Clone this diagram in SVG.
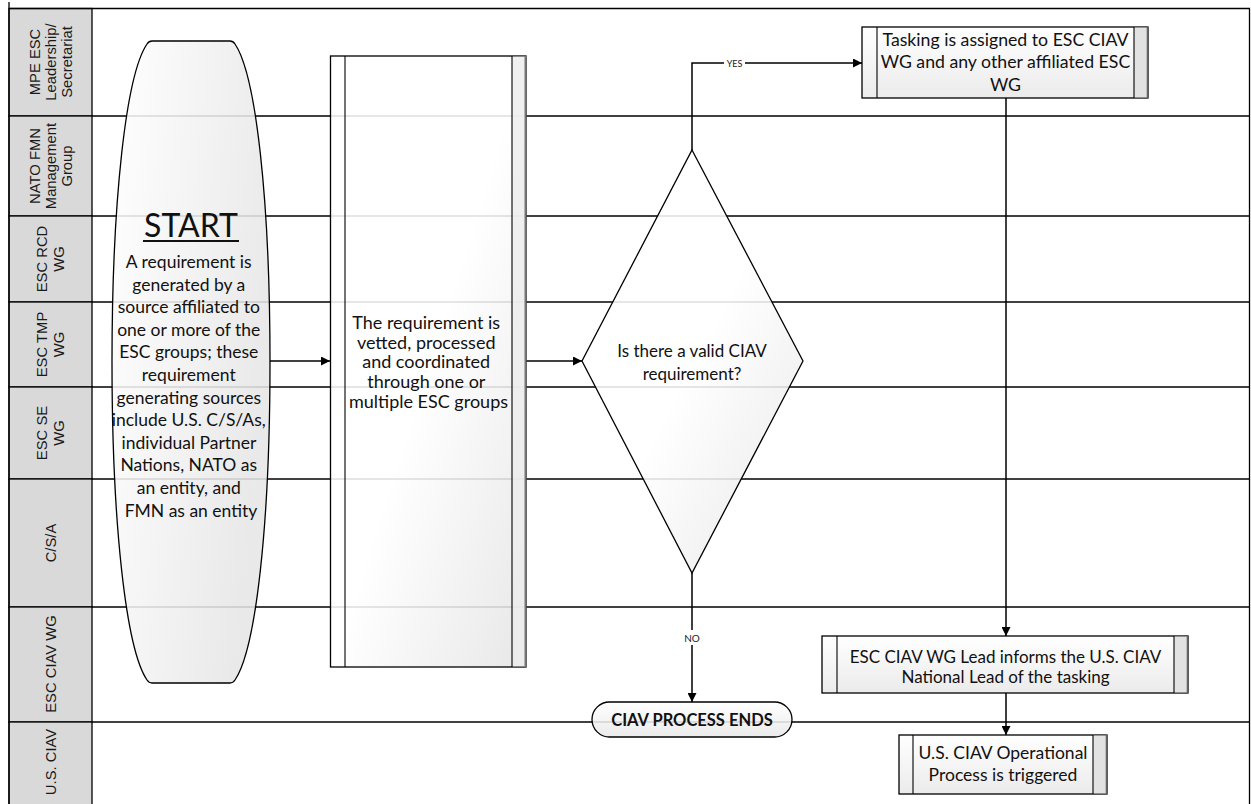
<svg xmlns="http://www.w3.org/2000/svg" width="1251" height="804" viewBox="0 0 1251 804">
<style>
.lane{stroke:#000;stroke-width:1.3;fill:none}
.lbl{fill:#d9d9d9;stroke:#000;stroke-width:1.3}
.lt{font-family:"Liberation Sans",Arial,sans-serif;font-size:14.8px;fill:#1a1a1a;text-anchor:middle}
.tx{font-family:Lato,"Liberation Sans",sans-serif;font-size:17px;fill:#111;text-anchor:middle}
.shape{stroke:#000;stroke-width:1.3;fill-opacity:0.87}
.strip{stroke:#000;stroke-width:1.1}
.con{stroke:#000;stroke-width:1.5;fill:none}
.cl{font-family:Lato,"Liberation Sans",sans-serif;font-size:10px;fill:#222;text-anchor:middle}
</style>
<defs>
<linearGradient id="g1" x1="0" y1="0" x2="1" y2="1">
<stop offset="0" stop-color="#ffffff"/><stop offset="0.5" stop-color="#ffffff"/><stop offset="1" stop-color="#e4e4e4"/>
</linearGradient>
<linearGradient id="g2" x1="0" y1="0" x2="1" y2="0.4">
<stop offset="0" stop-color="#ffffff"/><stop offset="1" stop-color="#e6e6e6"/>
</linearGradient>
<linearGradient id="g3" x1="0" y1="0" x2="0" y2="1">
<stop offset="0" stop-color="#ffffff"/><stop offset="1" stop-color="#e8e8e8"/>
</linearGradient>
<marker id="ah" viewBox="0 0 10 10" refX="10" refY="5" markerWidth="10" markerHeight="9" markerUnits="userSpaceOnUse" orient="auto">
<path d="M0,0 L10,5 L0,10 z" fill="#000"/>
</marker>
</defs>
<rect x="0" y="0" width="1251" height="804" fill="#fff"/>

<g id="lanes">
<rect class="lbl" x="9" y="8.5" width="83" height="107.5"/>
<rect class="lbl" x="9" y="116" width="83" height="100"/>
<rect class="lbl" x="9" y="216" width="83" height="86"/>
<rect class="lbl" x="9" y="302" width="83" height="85"/>
<rect class="lbl" x="9" y="387" width="83" height="92"/>
<rect class="lbl" x="9" y="479" width="83" height="128"/>
<rect class="lbl" x="9" y="607" width="83" height="115"/>
<rect class="lbl" x="9" y="722" width="83" height="90"/>
<line class="lane" x1="9" y1="2" x2="9" y2="804"/>
<line class="lane" x1="9" y1="8.5" x2="1250" y2="8.5"/>
<line class="lane" x1="1249.5" y1="8.5" x2="1249.5" y2="804"/>
<line class="lane" x1="92" y1="116" x2="1250" y2="116"/>
<line class="lane" x1="92" y1="216" x2="1250" y2="216"/>
<line class="lane" x1="92" y1="302" x2="1250" y2="302"/>
<line class="lane" x1="92" y1="387" x2="1250" y2="387"/>
<line class="lane" x1="92" y1="479" x2="1250" y2="479"/>
<line class="lane" x1="92" y1="607" x2="1250" y2="607"/>
<line class="lane" x1="92" y1="722" x2="1250" y2="722"/>
<text class="lt" transform="translate(51,62) rotate(-90)"><tspan x="0" y="-11">MPE ESC</tspan><tspan x="0" y="5">Leadership/</tspan><tspan x="0" y="21">Secretariat</tspan></text>
<text class="lt" transform="translate(51,166) rotate(-90)"><tspan x="0" y="-11">NATO FMN</tspan><tspan x="0" y="5">Management</tspan><tspan x="0" y="21">Group</tspan></text>
<text class="lt" transform="translate(51,259) rotate(-90)"><tspan x="0" y="-4">ESC RCD</tspan><tspan x="0" y="13">WG</tspan></text>
<text class="lt" transform="translate(51,344.5) rotate(-90)"><tspan x="0" y="-4">ESC TMP</tspan><tspan x="0" y="13">WG</tspan></text>
<text class="lt" transform="translate(51,433) rotate(-90)"><tspan x="0" y="-4">ESC SE</tspan><tspan x="0" y="13">WG</tspan></text>
<text class="lt" transform="translate(51,543) rotate(-90)"><tspan x="0" y="5">C/S/A</tspan></text>
<text class="lt" transform="translate(51,664) rotate(-90)"><tspan x="0" y="5">ESC CIAV WG</tspan></text>
<text class="lt" transform="translate(51,762) rotate(-90)"><tspan x="0" y="5">U.S. CIAV</tspan></text>
</g>

<g id="connectors">
<line class="con" x1="270" y1="361" x2="330" y2="361" marker-end="url(#ah)"/>
<line class="con" x1="526" y1="361" x2="582" y2="361" marker-end="url(#ah)"/>
<path class="con" d="M692,150 V63 H862" marker-end="url(#ah)"/>
<rect x="724" y="57" width="21" height="12" fill="#fff"/>
<text class="cl" x="734.5" y="66.5" style="font-size:9px">YES</text>
<line class="con" x1="692" y1="573" x2="692" y2="702" marker-end="url(#ah)"/>
<rect x="682" y="630" width="20" height="15" fill="#fff"/>
<text class="cl" x="692" y="641.5">NO</text>
<line class="con" x1="1006" y1="98" x2="1006" y2="636" marker-end="url(#ah)"/>
<line class="con" x1="1006" y1="693" x2="1006" y2="735" marker-end="url(#ah)"/>
</g>

<g id="start">
<path class="shape" fill="url(#g2)" d="M152,41 L230,41 Q233,41 235,44 C256,75 270,200 270,362 C270,524 256,649 235,680 Q233,683 230,683 L152,683 Q149,683 147,680 C126,649 112,524 112,362 C112,200 126,75 147,44 Q149,41 152,41 Z"/>
<text class="tx" x="191" y="237" style="font-size:32px">START</text>
<line x1="143" y1="241" x2="239" y2="241" stroke="#111" stroke-width="2"/>
<text class="tx" style="font-size:17.5px">
<tspan x="191" y="268">A requirement is</tspan>
<tspan x="191" y="290.6">generated by a</tspan>
<tspan x="191" y="313.2">source affiliated to</tspan>
<tspan x="191" y="335.8">one or more of the</tspan>
<tspan x="191" y="358.4">ESC  groups; these</tspan>
<tspan x="191" y="381">requirement</tspan>
<tspan x="191" y="403.6">generating sources</tspan>
<tspan x="191" y="426.2">include U.S. C/S/As,</tspan>
<tspan x="191" y="448.8">individual Partner</tspan>
<tspan x="191" y="471.4">Nations, NATO as</tspan>
<tspan x="191" y="494">an  entity, and</tspan>
<tspan x="191" y="516.6">FMN as an entity</tspan>
</text>
</g>

<g id="process">
<rect class="shape" fill="url(#g1)" x="330.5" y="56" width="195.5" height="611"/>
<rect x="512" y="56.6" width="13" height="609.8" fill="#ececec" fill-opacity="0.8"/>
<line class="strip" x1="345" y1="56" x2="345" y2="667"/>
<line class="strip" x1="512" y1="56" x2="512" y2="667"/>
<line x1="525.5" y1="56" x2="525.5" y2="667" stroke="#777" stroke-width="2"/>
<text class="tx" style="font-size:18px">
<tspan x="428.5" y="329">The requirement is</tspan>
<tspan x="428.5" y="348.5">vetted, processed</tspan>
<tspan x="428.5" y="368">and coordinated</tspan>
<tspan x="428.5" y="388">through one or</tspan>
<tspan x="428.5" y="408">multiple ESC groups</tspan>
</text>
</g>

<g id="decision">
<polygon class="shape" fill="url(#g1)" points="692,150 803,361 692,573 582,361"/>
<text class="tx"><tspan x="692" y="357">Is there a valid CIAV</tspan><tspan x="692" y="380">requirement?</tspan></text>
</g>

<g id="tasking">
<rect class="shape" fill="url(#g3)" x="862" y="27" width="286" height="71" fill-opacity="1"/>
<rect x="1134" y="27.6" width="13.5" height="69.8" fill="#e2e2e2"/>
<line class="strip" x1="877" y1="27" x2="877" y2="98"/>
<line class="strip" x1="1134" y1="27" x2="1134" y2="98"/>
<line x1="1147.5" y1="27" x2="1147.5" y2="98" stroke="#666" stroke-width="1.6"/>
<text class="tx" style="font-size:17.7px"><tspan x="1005.5" y="46">Tasking is assigned to ESC CIAV</tspan><tspan x="1005.5" y="68">WG and any other affiliated ESC</tspan><tspan x="1005.5" y="90.5">WG</tspan></text>
</g>

<g id="inform">
<rect class="shape" fill="url(#g3)" x="822" y="636" width="366" height="57" fill-opacity="1"/>
<rect x="1174" y="636.6" width="13.5" height="55.8" fill="#e2e2e2"/>
<line class="strip" x1="837" y1="636" x2="837" y2="693"/>
<line class="strip" x1="1174" y1="636" x2="1174" y2="693"/>
<line x1="1187.5" y1="636" x2="1187.5" y2="693" stroke="#666" stroke-width="1.6"/>
<text class="tx"><tspan x="1005.5" y="663">ESC CIAV WG Lead informs the U.S. CIAV</tspan><tspan x="1005.5" y="683">National Lead of the tasking</tspan></text>
</g>

<g id="triggered">
<rect class="shape" fill="url(#g3)" x="899" y="735" width="208" height="59" fill-opacity="1"/>
<rect x="1093" y="735.6" width="13.5" height="57.8" fill="#e2e2e2"/>
<line class="strip" x1="913" y1="735" x2="913" y2="794"/>
<line class="strip" x1="1093" y1="735" x2="1093" y2="794"/>
<line x1="1106.5" y1="735" x2="1106.5" y2="794" stroke="#666" stroke-width="1.6"/>
<text class="tx" style="font-size:17.5px"><tspan x="1003" y="759">U.S. CIAV Operational</tspan><tspan x="1003" y="781">Process  is triggered</tspan></text>
</g>

<g id="end">
<rect class="shape" fill="url(#g3)" x="592" y="702" width="200" height="35" rx="17.5" fill-opacity="0.88"/>
<text class="tx" x="692" y="725.5" style="font-weight:bold;font-size:16.5px">CIAV PROCESS ENDS</text>
</g>
</svg>
